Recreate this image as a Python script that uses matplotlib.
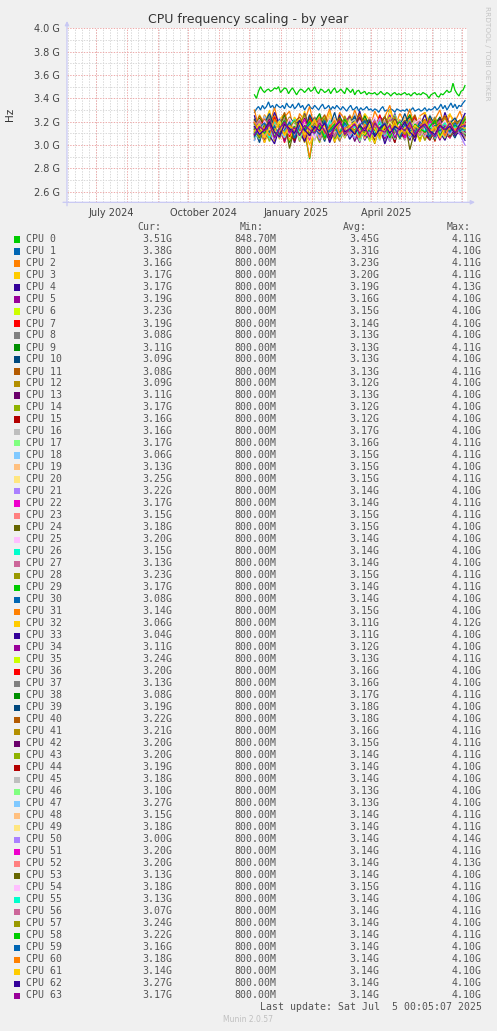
import numpy as np
import matplotlib
matplotlib.use("Agg")
import matplotlib.pyplot as plt
from matplotlib.patches import Rectangle

W, H = 497, 1031

# munin default palette, repeats every 29 series
palette = ["#00CC00", "#0066B3", "#FF8000", "#FFCC00", "#330099", "#990099", "#CCFF00",
           "#FF0000", "#808080", "#008F00", "#00487D", "#B35A00", "#B38F00", "#6B006B",
           "#8FB300", "#B30000", "#BEBEBE", "#80FF80", "#80C9FF", "#FFC080", "#FFE680",
           "#AA80FF", "#EE00CC", "#FF8080", "#666600", "#FFBFFF", "#00FFCC", "#CC6699",
           "#999900"]

cpu_labels = ["CPU %d" % i for i in range(64)]

# frequency samples in units of 10 MHz
# CPU 0 and CPU 1: every 2 days from 2024-12-06
cpu0_10mhz = ("343 340 346 350 347 345 347 348 346 347 349 348 350 345 "
              "347 349 348 344 347 349 346 343 346 348 347 345 347 349 346 "
              "347 350 346 344 348 347 345 346 348 344 347 349 345 346 "
              "348 346 344 349 347 345 348 343 346 347 344 345 346 343 345 344 "
              "344 345 343 344 346 344 343 345 344 342 344 345 343 344 343 "
              "344 345 343 344 342 344 345 343 344 343 345 344 343 340 343 344 "
              "345 342 341 344 343 345 347 345 346 353 347 344 342 346 347 351")
cpu1_10mhz = ("328 331 333 330 334 331 333 337 332 334 331 335 333 332 "
              "334 331 336 333 332 335 331 333 336 332 334 330 333 335 332 "
              "331 334 332 330 333 335 331 332 334 330 333 331 334 332 "
              "330 333 331 329 332 334 330 331 333 329 332 330 331 333 330 331 "
              "329 331 330 328 331 333 329 330 329 331 330 328 331 330 329 "
              "330 329 331 328 330 332 329 330 331 329 330 332 329 331 330 331 "
              "333 330 332 335 331 334 330 333 336 332 335 331 334 333 336 338")
# CPU 2 .. CPU 63: every 5 days from 2024-12-06
others_10mhz = [
    "330 312 326 318 332 315 324 329 310 327 321 333 314 325 319 331 312 328 322 316 330 318 326 313 329 320 324 334 315 327 319 331 313 325 328 316 322 330 314 326 320 329 316",
    "312 326 318 330 309 322 327 314 324 316 329 311 321 325 313 328 317 323 310 326 319 314 327 321 308 325 316 330 318 322 313 326 320 311 328 317 324 315 321 327 314 322 317",
    "325 309 321 314 328 317 306 323 319 311 327 315 320 308 324 318 312 326 310 322 316 329 313 321 307 325 318 314 327 312 320 324 309 317 326 313 322 311 328 316 319 321 317",
    "308 322 313 319 305 317 324 311 320 314 306 318 323 309 316 321 312 307 319 325 313 310 322 316 304 320 315 326 311 318 309 323 314 317 306 321 312 324 315 310 320 314 319",
    "321 306 317 311 324 309 318 303 315 322 310 319 307 316 325 312 305 320 314 309 323 313 318 306 321 311 316 324 308 319 312 305 317 322 310 315 320 307 318 313 309 319 323",
    "305 319 311 322 308 316 302 318 313 321 309 315 324 306 317 311 320 304 314 319 310 323 307 316 312 305 321 313 318 309 315 322 306 319 311 316 303 320 312 317 310 315 319",
    "318 304 315 309 321 307 313 319 302 316 311 322 306 314 308 320 312 303 317 310 315 305 319 311 323 308 314 306 318 312 304 316 321 309 313 307 320 311 305 317 314 318 308",
    "307 316 310 320 305 313 318 302 315 309 321 311 306 317 312 304 319 310 314 308 322 306 316 311 303 318 313 309 320 305 315 312 307 319 310 316 304 321 311 308 317 309 311",
    "314 302 318 309 322 306 316 311 305 319 310 320 307 315 303 317 312 321 308 314 306 318 311 304 320 313 309 316 302 319 312 307 317 310 321 305 314 318 309 313 306 316 309",
    "309 319 304 316 311 322 307 314 318 303 315 310 320 306 313 317 302 319 311 308 316 321 305 312 318 309 314 303 317 310 320 307 313 316 304 318 311 309 321 306 314 317 308",
    "316 305 312 319 303 314 309 321 307 313 302 317 310 315 306 320 311 304 318 309 313 307 319 312 301 316 310 314 305 320 308 313 317 303 315 311 306 318 312 309 316 311 309",
    "304 317 311 306 320 313 308 316 302 318 312 307 321 310 315 305 319 311 309 316 303 314 320 308 312 317 306 315 310 321 313 304 318 311 307 316 312 320 305 314 310 317 311",
    "319 308 313 303 316 310 321 305 314 311 306 318 312 302 317 309 314 320 307 313 310 304 319 315 308 312 303 317 311 306 318 313 309 316 304 314 320 310 307 315 311 313 317",
    "310 315 302 318 307 313 320 309 304 316 312 319 306 311 315 303 317 310 321 308 314 306 312 318 305 316 309 313 302 319 311 307 315 320 309 304 313 317 310 306 318 312 316",
    "322 311 319 325 313 317 308 323 316 320 312 326 318 310 321 315 324 309 319 313 327 316 311 322 318 307 320 314 325 317 310 323 315 319 312 326 316 321 309 318 324 313 316",
    "311 323 315 308 320 317 326 312 318 309 322 314 319 325 310 316 321 307 324 315 313 320 306 318 323 312 317 310 326 314 319 308 322 316 313 325 311 318 320 309 315 321 317",
    "320 310 325 313 306 318 322 309 316 312 324 307 319 315 311 323 305 317 321 310 314 326 308 320 313 316 304 322 311 318 315 309 324 312 319 307 317 321 313 310 318 312 306",
    "308 319 313 324 310 316 305 321 314 318 311 322 307 317 313 325 309 315 320 306 318 312 323 310 316 304 321 314 319 309 324 311 316 307 320 313 318 310 322 315 308 317 313",
    "316 306 322 311 319 314 326 308 317 312 305 320 315 323 309 318 311 321 307 316 324 313 310 319 306 317 322 312 315 308 320 316 311 325 309 314 318 305 321 313 317 319 325",
    "312 321 307 316 310 323 305 318 314 309 320 311 317 304 315 322 308 313 319 310 306 316 321 312 309 318 314 303 320 311 315 308 322 313 317 306 319 311 316 310 313 318 322",
    "318 309 314 322 305 316 311 320 307 317 313 304 319 310 321 314 308 316 323 311 315 306 312 320 309 317 313 322 305 314 310 318 307 316 312 321 309 315 319 306 317 312 317",
    "309 317 323 312 306 319 314 321 308 316 324 311 315 307 320 313 318 305 322 314 310 319 316 324 309 313 321 307 317 312 320 315 310 323 306 318 313 316 311 321 314 319 315",
    "321 313 308 318 325 311 316 306 320 314 310 323 317 309 315 321 307 318 312 324 316 305 319 313 322 310 317 314 308 320 312 318 325 311 316 309 322 314 319 307 316 313 318",
    "307 318 312 320 309 315 322 306 317 311 319 313 304 316 321 310 314 318 308 323 312 317 309 315 320 306 313 319 311 316 305 321 314 310 318 312 316 308 320 313 315 317 320",
    "316 304 319 311 317 308 321 313 306 318 312 320 309 315 323 307 314 311 319 305 317 313 322 310 316 308 318 312 305 320 314 309 317 321 311 315 306 319 313 316 310 318 315",
    "311 320 306 315 318 310 323 309 316 312 305 319 314 321 308 313 317 306 320 311 315 322 309 314 307 318 312 320 310 316 319 307 313 316 311 321 305 314 318 312 317 310 313",
    "319 310 316 324 308 317 313 321 311 318 326 312 315 309 320 314 322 307 317 313 311 323 316 310 319 314 325 309 315 320 312 318 308 322 316 311 319 313 324 310 317 319 323",
    "313 307 319 311 316 321 309 315 306 318 312 288 314 320 310 317 305 316 312 322 309 314 318 307 315 311 320 313 306 317 312 319 310 316 308 321 313 311 318 309 315 312 317",
    "318 311 305 317 313 322 309 315 320 307 314 319 311 306 316 321 312 308 318 313 323 310 315 306 319 312 317 309 321 314 307 316 313 320 311 305 318 314 310 317 312 314 308",
    "322 314 309 318 325 311 316 320 307 317 313 289 318 324 312 316 309 321 315 311 319 326 313 308 317 322 314 310 320 316 312 323 309 318 315 321 311 317 325 313 316 318 314",
    "306 316 302 313 319 308 311 304 317 310 314 300 312 318 307 315 303 311 320 309 313 305 316 310 302 318 308 314 311 306 319 309 313 303 316 311 307 317 305 312 314 309 306",
    "313 304 317 308 301 315 310 319 306 312 303 316 311 307 318 302 313 309 316 305 311 319 304 313 308 317 301 312 315 307 310 314 303 318 309 306 316 311 304 315 308 312 304",
    "309 318 305 314 311 320 303 316 312 307 319 310 315 304 317 313 308 321 306 314 311 302 318 313 309 316 305 319 312 310 315 306 320 311 308 317 313 304 316 310 314 309 311",
    "316 307 321 310 314 305 318 312 320 308 313 317 304 315 311 322 309 316 306 319 312 310 318 303 315 320 311 307 317 313 309 321 314 306 318 312 316 308 320 311 315 318 324",
    "312 322 317 309 324 314 319 307 321 316 310 325 313 318 320 308 316 323 311 319 315 306 322 317 313 326 310 318 314 321 309 317 324 312 319 315 308 322 316 313 320 317 320",
    "320 311 316 325 309 318 313 322 307 319 315 310 324 317 312 321 306 318 314 323 311 319 316 308 322 314 320 312 325 310 317 313 321 309 318 315 324 311 319 316 313 318 313",
    "314 323 318 310 321 316 326 312 319 308 322 315 320 327 313 318 311 324 317 309 321 314 325 316 312 320 318 307 323 315 319 326 313 317 322 310 318 324 314 320 316 313 308",
    "322 313 319 327 315 320 310 324 317 321 312 326 318 314 323 316 328 311 320 317 325 313 319 322 309 318 324 315 321 316 327 314 320 318 312 325 317 321 313 319 323 316 319",
    "315 325 318 311 322 317 328 313 320 324 316 310 321 319 326 314 318 323 312 320 317 327 315 321 311 319 324 316 322 313 320 318 326 314 317 323 311 319 325 316 318 321 322",
    "319 310 322 315 308 320 317 324 312 318 313 321 316 307 323 314 319 311 325 316 309 318 322 313 317 320 310 315 324 312 318 321 314 309 320 316 323 312 317 315 320 318 321",
    "310 319 314 322 307 317 312 320 316 309 323 313 318 305 316 321 311 315 319 308 317 324 312 314 320 309 316 311 322 314 308 318 315 321 310 317 313 323 311 316 314 318 320",
    "317 308 315 311 321 306 319 313 310 318 307 314 320 312 316 305 318 311 322 309 315 312 306 319 313 317 310 321 308 314 318 311 316 305 320 313 309 317 312 319 315 316 320",
    "308 316 321 310 314 318 305 320 312 315 319 309 313 322 306 317 311 315 308 320 313 318 310 316 321 307 314 312 319 311 306 317 315 320 309 313 318 310 316 314 312 317 319",
    "315 322 309 317 306 313 319 311 321 308 314 316 304 318 312 320 310 315 307 319 322 311 314 308 317 313 320 306 315 312 318 310 321 313 307 316 311 319 314 309 316 314 318",
    "311 305 318 309 315 320 307 313 317 304 316 312 308 319 310 314 321 306 313 309 317 303 315 312 320 308 311 316 305 318 313 309 316 307 314 319 310 312 306 317 311 313 310",
    "304 316 311 319 308 313 306 318 312 315 320 309 314 305 317 311 322 308 313 316 307 319 310 315 312 304 318 313 309 321 311 306 316 313 319 308 315 310 317 312 314 319 327",
    "318 310 314 307 320 313 316 309 321 311 315 306 319 312 317 310 323 314 308 316 312 320 305 317 311 315 319 309 313 318 310 316 321 308 314 312 318 306 315 320 311 317 315",
    "312 319 306 316 313 321 309 315 318 307 320 311 314 317 305 319 312 316 310 322 308 315 313 319 306 317 311 320 314 309 316 312 318 307 321 313 310 315 319 311 314 316 318",
    "316 309 320 313 305 318 311 322 308 315 312 319 306 317 314 321 309 313 316 307 320 312 318 310 315 323 307 314 311 319 313 308 317 320 311 316 306 318 313 310 315 309 300",
    "309 317 313 321 307 314 319 310 316 312 322 308 315 311 318 306 316 320 312 314 310 318 307 315 321 312 317 309 314 319 306 316 312 318 310 321 313 308 317 315 311 316 320",
    "320 312 307 316 319 310 314 322 308 317 311 315 320 306 313 318 310 316 321 309 314 319 311 307 317 313 320 310 315 308 318 312 316 321 309 314 311 319 307 316 313 317 320",
    "313 306 318 311 316 309 320 297 315 312 318 308 314 321 310 316 307 319 313 311 317 309 315 320 312 306 318 314 310 316 321 296 313 317 311 315 308 319 312 316 310 314 313",
    "317 310 321 314 308 319 312 323 316 311 318 313 306 320 315 322 311 317 309 319 314 321 312 316 324 310 318 313 307 320 315 311 319 322 313 317 309 316 321 312 318 314 318",
    "310 318 313 306 320 315 311 317 322 308 314 319 310 316 307 321 313 309 318 312 316 305 319 314 311 320 308 315 317 310 313 321 309 316 312 318 306 314 319 311 316 312 313",
    "315 321 309 317 312 306 319 314 310 320 308 316 313 322 311 315 307 318 314 310 319 312 316 306 321 313 309 317 311 315 320 310 314 308 318 312 316 321 309 314 311 315 307",
    "311 307 316 320 313 318 309 315 321 312 316 310 319 314 305 317 312 320 308 315 313 318 310 322 314 307 316 311 319 313 309 317 315 311 320 306 314 318 312 316 310 317 324",
    "318 313 310 319 307 315 321 312 316 309 314 320 311 317 306 313 318 310 322 315 311 316 308 314 319 312 317 306 315 320 313 309 318 314 311 316 321 308 315 312 317 314 322",
    "307 315 319 311 316 309 313 320 306 317 312 318 314 309 321 311 316 307 319 313 310 317 321 312 308 315 319 311 314 306 318 313 310 320 315 307 317 312 316 311 319 312 316",
    "319 311 315 308 322 314 310 317 313 320 306 316 312 319 310 315 321 309 314 317 311 306 318 313 320 309 316 312 318 314 310 319 307 315 322 311 314 318 308 316 313 317 318",
    "312 318 306 315 311 320 308 316 313 319 309 315 322 311 317 306 314 319 310 316 320 312 309 317 314 305 318 312 321 310 315 308 317 313 319 311 316 306 314 320 312 316 314",
    "316 309 313 320 311 307 318 314 310 321 313 308 316 312 319 306 315 320 311 314 309 317 312 321 307 314 318 310 316 313 320 311 307 315 318 312 309 317 313 316 310 318 327",
    "309 316 312 318 306 314 320 311 315 308 317 313 310 319 312 305 316 321 309 314 318 310 315 307 319 313 311 317 306 316 312 320 309 314 318 311 307 316 313 319 311 315 317",
]

# legend table
cur_g = [3.51, 3.38, 3.16, 3.17, 3.17, 3.19, 3.23, 3.19, 3.08, 3.11, 3.09, 3.08, 3.09, 3.11, 3.17, 3.16,
         3.16, 3.17, 3.06, 3.13, 3.25, 3.22, 3.17, 3.15, 3.18, 3.20, 3.15, 3.13, 3.23, 3.17, 3.08, 3.14,
         3.06, 3.04, 3.11, 3.24, 3.20, 3.13, 3.08, 3.19, 3.22, 3.21, 3.20, 3.20, 3.19, 3.18, 3.10, 3.27,
         3.15, 3.18, 3.00, 3.20, 3.20, 3.13, 3.18, 3.13, 3.07, 3.24, 3.22, 3.16, 3.18, 3.14, 3.27, 3.17]
min_m = [848.70] + [800.00] * 63
avg_g = [3.45, 3.31, 3.23, 3.20, 3.19, 3.16, 3.15, 3.14, 3.13, 3.13, 3.13, 3.13, 3.12, 3.13, 3.12, 3.12,
         3.17, 3.16, 3.15, 3.15, 3.15, 3.14, 3.14, 3.15, 3.15, 3.14, 3.14, 3.14, 3.15, 3.14, 3.14, 3.15,
         3.11, 3.11, 3.12, 3.13, 3.16, 3.16, 3.17, 3.18, 3.18, 3.16, 3.15, 3.14, 3.14, 3.14, 3.13, 3.13,
         3.14, 3.14, 3.14, 3.14, 3.14, 3.14, 3.15, 3.14, 3.14, 3.14, 3.14, 3.14, 3.14, 3.14, 3.14, 3.14]
max_g = [4.11, 4.10, 4.11, 4.11, 4.13, 4.10, 4.10, 4.10, 4.10, 4.11, 4.10, 4.11, 4.10, 4.10, 4.10, 4.10,
         4.10, 4.11, 4.11, 4.10, 4.11, 4.10, 4.11, 4.11, 4.10, 4.10, 4.10, 4.10, 4.11, 4.11, 4.10, 4.10,
         4.12, 4.10, 4.10, 4.11, 4.10, 4.10, 4.11, 4.10, 4.10, 4.11, 4.11, 4.11, 4.10, 4.10, 4.10, 4.10,
         4.11, 4.11, 4.14, 4.11, 4.13, 4.10, 4.11, 4.10, 4.11, 4.10, 4.11, 4.10, 4.10, 4.10, 4.10, 4.10]

y_ticks = [2.6, 2.8, 3.0, 3.2, 3.4, 3.6, 3.8, 4.0]
month_labels = ["July 2024", "October 2024", "January 2025", "April 2025"]
month_label_dates = ["2024-07-16", "2024-10-16", "2025-01-16", "2025-04-16"]

data_start = np.datetime64("2024-12-06")


def fx(px):
    return px / W


def fy(py):
    return 1 - py / H


fig = plt.figure(figsize=(W / 100, H / 100), dpi=100, facecolor="#F0F0F0")
ax = fig.add_axes([fx(67), fy(202.3), 400 / W, (202.3 - 28.0) / H])
ax.set_facecolor("white")
for sp in ax.spines.values():
    sp.set_visible(False)

x0, x1 = np.datetime64("2024-06-02"), np.datetime64("2025-07-06")
ax.set_xlim(x0, x1)
ax.set_ylim(2.509, 4.003)

# grid
dot = (0, (1.4, 1.4))
for y in np.arange(2.7, 4.0, 0.2):
    ax.axhline(y, color="#D8D8D8", lw=0.7, ls=dot, zorder=1)
for wk in np.arange(np.datetime64("2024-06-03"), x1, np.timedelta64(7, "D")):
    ax.axvline(wk, color="#D8D8D8", lw=0.7, ls=dot, zorder=1)
for y in y_ticks:
    ax.axhline(y, color="#EDAAAA", lw=0.7, ls=dot, zorder=2)
months = np.arange(np.datetime64("2024-07"), np.datetime64("2025-08"), np.timedelta64(1, "M"))
for m in months:
    ax.axvline(m.astype("datetime64[D]"), color="#EDAAAA", lw=0.7, ls=dot, zorder=2)

series = [cpu0_10mhz, cpu1_10mhz] + others_10mhz
steps = [2, 2] + [5] * len(others_10mhz)
for i, (s, st) in enumerate(zip(series, steps)):
    vals = np.array(s.split(), dtype=float) / 100.0
    dates = data_start + np.arange(len(vals)) * np.timedelta64(st, "D")
    ax.plot(dates, vals, color=palette[i % len(palette)], lw=0.9, zorder=3 + i * 0.01,
            solid_joinstyle="miter")

ax.set_yticks(y_ticks)
ax.set_yticklabels(["%.1f G" % v for v in y_ticks])
ax.set_xticks([np.datetime64(d) for d in month_label_dates])
ax.set_xticklabels(month_labels)
ax.tick_params(axis="y", length=0, pad=5, labelsize=7, labelcolor="#444444")
ax.tick_params(axis="x", length=0, pad=4, labelsize=7, labelcolor="#444444")

# axes with arrows
acol = "#C8C8F4"
ax.annotate("", xy=(0, 1.04), xytext=(0, -0.02), xycoords="axes fraction",
            arrowprops=dict(arrowstyle="-|>", color=acol, lw=0.9, mutation_scale=6,
                            shrinkA=0, shrinkB=0), annotation_clip=False)
ax.annotate("", xy=(1.02, 0), xytext=(-0.01, 0), xycoords="axes fraction",
            arrowprops=dict(arrowstyle="-|>", color=acol, lw=0.9, mutation_scale=6,
                            shrinkA=0, shrinkB=0), annotation_clip=False)

fig.text(fx(248), fy(19.5), "CPU frequency scaling - by year", ha="center", va="center",
         fontsize=9, color="#333333")
fig.text(fx(10.5), fy(114), "Hz", ha="center", va="center", rotation=90, fontsize=7.5,
         color="#333333")
fig.text(fx(487), fy(53), "RRDTOOL / TOBI OETIKER", ha="center", va="center", rotation=270,
         fontsize=5.3, color="#C4C4C4")

# legend table
mono = dict(family="DejaVu Sans Mono", fontsize=7.1, color="#555555", va="center")
for hx, h in zip([137, 240, 343, 447], ["Cur:", "Min:", "Avg:", "Max:"]):
    fig.text(fx(hx), fy(227), h, ha="left", **mono)
for i in range(64):
    yc = 239.5 + 12 * i
    fig.patches.append(Rectangle((fx(14), fy(yc + 3)), 6 / W, 6 / H, transform=fig.transFigure,
                                 facecolor=palette[i % len(palette)], edgecolor="none"))
    fig.text(fx(26), fy(yc), cpu_labels[i], ha="left", **mono)
    fig.text(fx(172), fy(yc), "%.2fG" % cur_g[i], ha="right", **mono)
    fig.text(fx(276), fy(yc), "%.2fM" % min_m[i], ha="right", **mono)
    fig.text(fx(379), fy(yc), "%.2fG" % avg_g[i], ha="right", **mono)
    fig.text(fx(482), fy(yc), "%.2fG" % max_g[i], ha="right", **mono)

fig.text(fx(482), fy(1007), "Last update: Sat Jul  5 00:05:07 2025", ha="right", **mono)
fig.text(fx(248), fy(1020), "Munin 2.0.57", ha="center", va="center", fontsize=5.5,
         color="#C0C0C0")

fig.savefig("out.png", dpi=100, facecolor=fig.get_facecolor())
